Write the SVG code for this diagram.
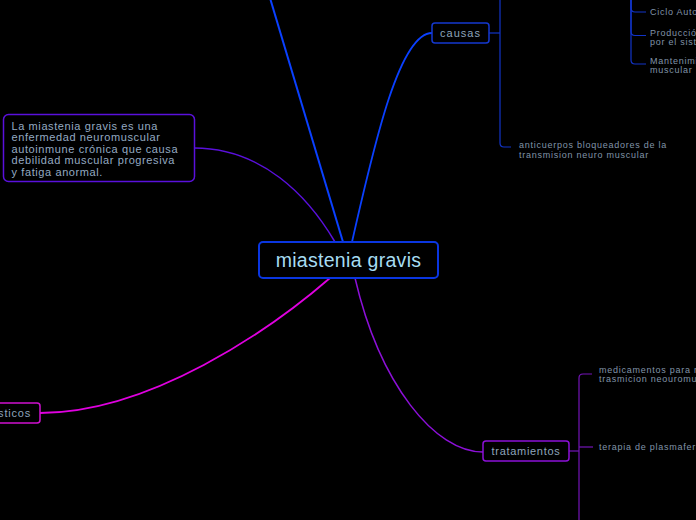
<svg xmlns="http://www.w3.org/2000/svg" width="696" height="520" viewBox="0 0 696 520">
<style>
text{font-family:"Liberation Sans",Arial,sans-serif;}
.main{font-size:19.5px;fill:#a6dcf2;letter-spacing:0.3px;}
.topic{font-size:11px;fill:#8ea4bc;}
.desc{font-size:11px;fill:#94aac2;letter-spacing:0.6px;}
.sub{font-size:9px;fill:#8094a8;letter-spacing:0.75px;}
.br{fill:none;stroke-width:1.2;}
.bl{stroke:#1234c8;}
.pu{stroke:#7414b8;}
</style>
<rect width="696" height="520" fill="#000000"/>
<g id="connectors" fill="none">
<path d="M343,242 L270,-2" stroke="#0a40ff" stroke-width="2"/>
<path d="M352,242 C375,140 400,33 432,33" stroke="#0a40ff" stroke-width="1.8"/>
<path d="M194,148 C262,148 308,196 335,242" stroke="#5a10dc" stroke-width="1.5"/>
<path d="M330,278 C270,330 150,413 40,413" stroke="#e000e0" stroke-width="1.8"/>
<path d="M355,278 C380,385 435,452 483,452" stroke="#8c10d8" stroke-width="1.5"/>
<path class="br bl" d="M489,33 L500,33"/>
<path class="br bl" d="M500,-5 L500,143 Q500,147 504,147 L511,147"/>
<path class="br bl" d="M631,-5 L631,8 Q631,12 635,12 L646,12"/>
<path class="br bl" d="M631,-5 L631,31.5 Q631,35.5 635,35.5 L646,35.5"/>
<path class="br bl" d="M631,-5 L631,60 Q631,64 635,64 L646,64"/>
<path class="br pu" d="M569,451 L579,451"/>
<path class="br pu" d="M579,525 L579,378 Q579,374 583,374 L592,374"/>
<path class="br pu" d="M579,447 L593,447"/>
</g>
<g id="central">
<rect x="259" y="242" width="179" height="36" rx="4" fill="#000" stroke="#0a36e0" stroke-width="2"/>
<text class="main" x="348.5" y="267" text-anchor="middle">miastenia gravis</text>
</g>
<g id="descripcion">
<rect x="3.5" y="114.5" width="191" height="67" rx="5" fill="#000" stroke="#5a10dc" stroke-width="1.5"/>
<text class="desc" x="11.5"><tspan x="11.5" y="129.5">La miastenia gravis es una</tspan><tspan x="11.5" y="141">enfermedad neuromuscular</tspan><tspan x="11.5" y="152.5">autoinmune crónica que causa</tspan><tspan x="11.5" y="164">debilidad muscular progresiva</tspan><tspan x="11.5" y="175.5">y fatiga anormal.</tspan></text>
</g>
<g id="causas">
<rect x="432" y="23" width="57" height="20" rx="3" fill="#000" stroke="#1438d0" stroke-width="1.5"/>
<text class="topic" x="460.5" y="37" text-anchor="middle" style="letter-spacing:1px">causas</text>
</g>
<g id="ciclo">
<text class="sub" x="650" y="15">Ciclo Auto</text>
</g>
<g id="produccion">
<text class="sub"><tspan x="650" y="35.5">Producció</tspan><tspan x="650" y="44.5">por el siste</tspan></text>
</g>
<g id="mantenimiento">
<text class="sub"><tspan x="650" y="64">Mantenimi</tspan><tspan x="650" y="73">muscular</tspan></text>
</g>
<g id="anticuerpos">
<text class="sub"><tspan x="519" y="147.5">anticuerpos bloqueadores de la</tspan><tspan x="519" y="157.5">transmision neuro muscular</tspan></text>
</g>
<g id="diagnosticos">
<rect x="-30" y="403" width="70" height="20" rx="3" fill="#000" stroke="#d010d0" stroke-width="1.5"/>
<text class="topic" x="31" y="417" text-anchor="end" style="letter-spacing:0.8px">sticos</text>
</g>
<g id="tratamientos">
<rect x="483" y="441" width="86" height="20" rx="3" fill="#000" stroke="#8c10d8" stroke-width="1.5"/>
<text class="topic" x="526" y="455" text-anchor="middle" style="letter-spacing:0.7px">tratamientos</text>
</g>
<g id="medicamentos">
<text class="sub"><tspan x="599" y="373">medicamentos para m</tspan><tspan x="599" y="382">trasmicion neouromu</tspan></text>
</g>
<g id="terapia">
<text class="sub" x="599" y="450">terapia de plasmaferi</text>
</g>
</svg>
